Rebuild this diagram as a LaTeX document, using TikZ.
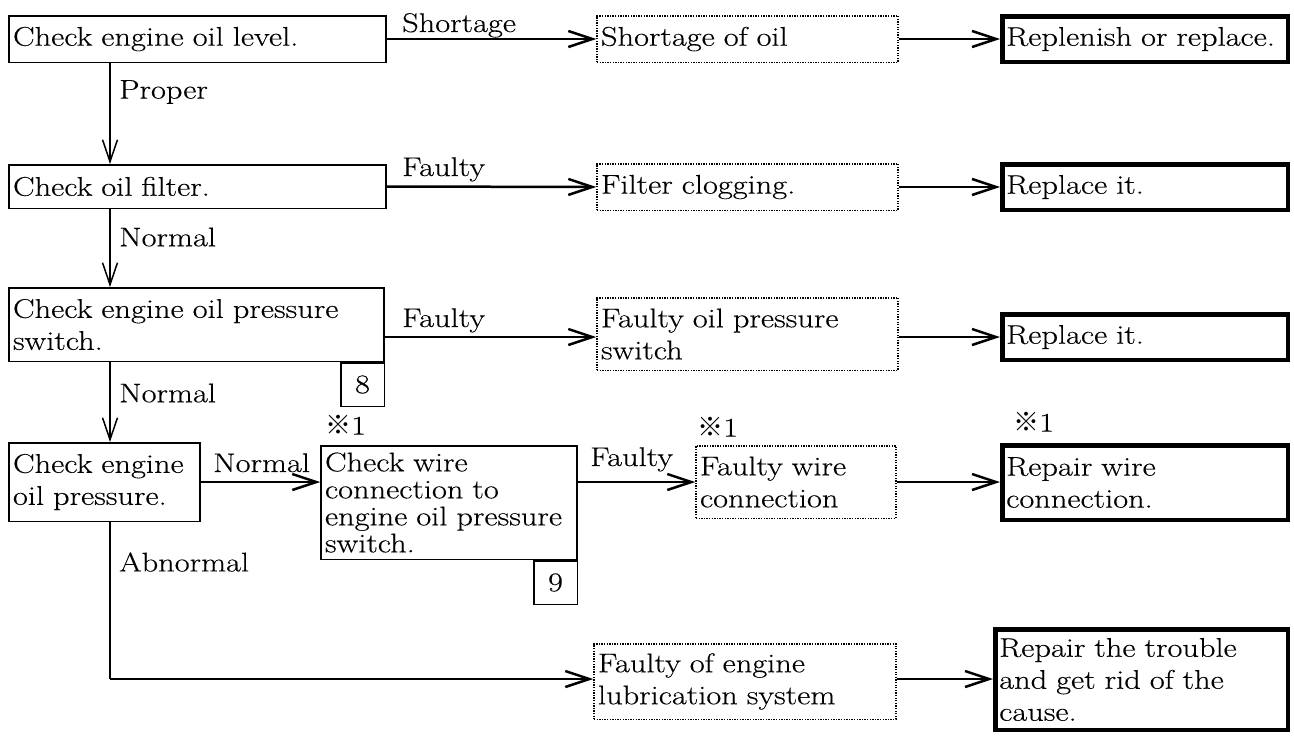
\documentclass[tikz,border=0pt]{standalone}
\usepackage{fontspec}
\setmainfont{Latin Modern Roman}[FakeStretch=1.2, FakeBold=0.3]
\newfontfamily\cjkf{Noto Sans CJK JP}
\usetikzlibrary{arrows.meta}
\newcommand\myfs{\fontsize{27}{32}\selectfont}
\newcommand\myfst{\fontsize{27}{27}\selectfont}
\tikzset{
  box/.style={draw, rectangle, line width=1.5pt, inner xsep=4pt, inner ysep=0pt, align=left, font=\myfs},
  dbox/.style={box, dash pattern=on 1.3pt off 1.3pt},
  tbox/.style={box, line width=4.5pt},
  numbox/.style={draw, rectangle, line width=1.5pt, minimum size=43.5pt, inner sep=0pt, font=\myfs},
  hconn/.style={line width=2.5pt, -{Straight Barb[length=24pt,width=16pt]}},
  vconn/.style={line width=1.5pt, -{Straight Barb[length=22pt,width=15pt]}},
  vline/.style={line width=1.5pt},
  lbl/.style={inner sep=0pt, font=\myfs},
  note/.style={inner sep=0pt, font=\myfs}
}
\begin{document}
\begin{tikzpicture}[x=1pt,y=-1pt]
\useasboundingbox (0,0) rectangle (1294,736);
% row 1
\node[box, text width=369pt, minimum height=46.5pt] (b1) at (197.5,39) {Check engine oil level.};
\node[dbox, text width=293pt, minimum height=46.5pt] (s1) at (747.5,39) {Shortage of oil};
\node[tbox, text width=277.5pt, minimum height=45.5pt] (r1) at (1145,39) {Replenish or replace.};
% row 2
\node[box, text width=369pt, minimum height=43.5pt] (b2) at (197.5,186.5) {Check oil filter.};
\node[dbox, text width=293pt, minimum height=46.5pt] (s2) at (747.5,187) {Filter clogging.};
\node[tbox, text width=277.5pt, minimum height=45.5pt] (r2) at (1145,187) {Replace it.};
% row 3
\node[box, text width=367pt, minimum height=73.5pt] (b3) at (196.5,324.5) {Check engine oil pressure\\switch.};
\node[numbox] (n8) at (362.5,384.5) {8};
\node[dbox, text width=293pt, minimum height=72.5pt] (s3) at (747.5,334) {Faulty oil pressure\\switch};
\node[tbox, text width=277.5pt, minimum height=45.5pt] (r3) at (1145,337) {Replace it.};
% row 4
\node[box, text width=183pt, minimum height=78.5pt] (b4) at (104.5,482) {Check engine\\oil pressure.};
\node[box, font=\myfst, text width=248pt, minimum height=113.5pt] (b5) at (449,502.5) {Check wire\\connection to\\engine oil pressure\\switch.};
\node[numbox] (n9) at (555.5,582.5) {9};
\node[dbox, text width=192pt, minimum height=72.5pt] (s4) at (796,482) {Faulty wire\\connection};
\node[tbox, text width=277.5pt, minimum height=74.5pt] (r4) at (1145,482.5) {Repair wire\\connection.};
\node[note, anchor=west] (m1) at (325,425) {{\cjkf\fontsize{26}{26}\selectfont ※}1};
\node[note, anchor=west] (m2) at (697,427) {{\cjkf\fontsize{26}{26}\selectfont ※}1};
\node[note, anchor=west] (m3) at (1013,422) {{\cjkf\fontsize{26}{26}\selectfont ※}1};
% row 5
\node[dbox, text width=294pt, minimum height=75.5pt] (s5) at (745,681.5) {Faulty of engine\\lubrication system};
\node[tbox, text width=284.5pt, minimum height=100.5pt] (r5) at (1141.5,679.5) {Repair the trouble\\and get rid of the\\cause.};
% coordinates
\coordinate (vx) at (110,0);
\coordinate (corner) at (110,679);
% connectors
\draw[hconn] (b1.east) -- (s1.west);
\draw[hconn] (s1.east) -- (r1.west);
\draw[hconn] (b2.east) -- (s2.west);
\draw[hconn] (s2.east) -- (r2.west);
\draw[hconn] (b3.east |- r3.west) -- (s3.west |- r3.west);
\draw[hconn] (s3.east |- r3.west) -- (r3.west);
\draw[hconn] (b4.east) -- (b5.west |- b4.east);
\draw[hconn] (b5.east |- s4.west) -- (s4.west);
\draw[hconn] (s4.east) -- (r4.west |- s4.east);
\draw[vconn] (b1.south -| vx) -- (b2.north -| vx);
\draw[vconn] (b2.south -| vx) -- (b3.north -| vx);
\draw[vconn] (b3.south -| vx) -- (b4.north -| vx);
\draw[vline] (b4.south -| vx) -- (corner);
\draw[hconn] (corner) -- (s5.west |- corner);
\draw[hconn] (s5.east |- corner) -- (r5.west |- corner);
% labels
\node[lbl, anchor=base west] (l1) at (402,32) {Shortage};
\node[lbl, anchor=west] (l2) at (119,92) {Proper};
\node[lbl, anchor=base west] (l3) at (402,176) {Faulty};
\node[lbl, anchor=west] (l4) at (119,237) {Normal};
\node[lbl, anchor=base west] (l5) at (402,327) {Faulty};
\node[lbl, anchor=west] (l6) at (119,393) {Normal};
\node[lbl, anchor=base west] (l7) at (213,472) {Normal};
\node[lbl, anchor=base west] (l8) at (590,466) {Faulty};
\node[lbl, anchor=west] (l9) at (119,562) {Abnormal};
\end{tikzpicture}
\end{document}
